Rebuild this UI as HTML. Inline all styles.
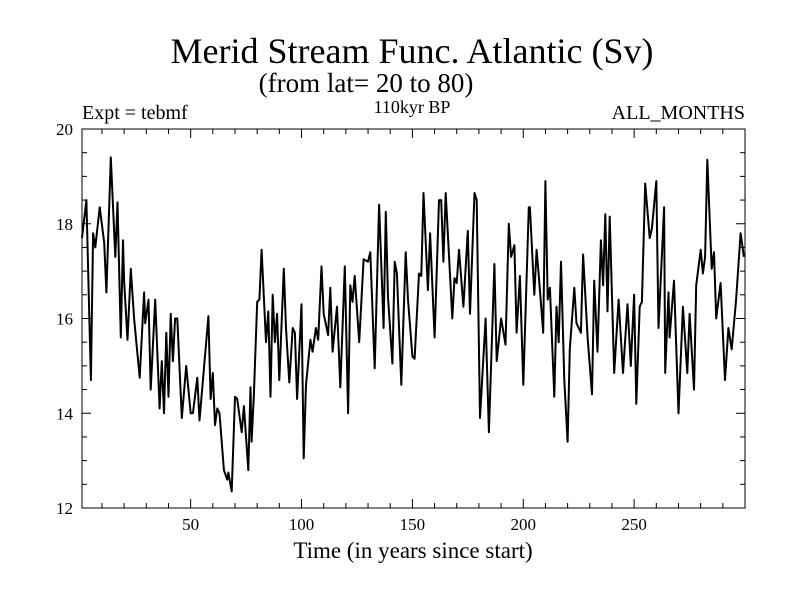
<!DOCTYPE html>
<html><head><meta charset="utf-8"><style>
body{margin:0;background:#fff;}
svg{display:block;font-family:"Liberation Serif",serif;}
</style></head><body>
<svg id="chart" width="800" height="600">
<text x="412" y="63" font-size="36" text-anchor="middle">Merid Stream Func. Atlantic (Sv)</text>
<text x="366" y="92" font-size="27" text-anchor="middle">(from lat= 20 to 80)</text>
<text x="82" y="119" font-size="20">Expt = tebmf</text>
<text x="412" y="113" font-size="18" text-anchor="middle">110kyr BP</text>
<text x="745" y="119" font-size="20" text-anchor="end">ALL_MONTHS</text>
<text x="413" y="558" font-size="23" text-anchor="middle">Time (in years since start)</text>
<rect x="82" y="129" width="663" height="379" fill="none" stroke="#000" stroke-width="1"/>
<g id="ticks"></g>
<g id="series"></g>
</svg>
<script>
const years=[1,3,5,6,7,9,11,12,14,16,17,18.5,19.5,20,21.5,23,24.5,27,29,29.5,31,32,34,36,37,38,39,40,41,42,43,44,46,48,50,51,53,54,58,59,60,61,62,63,65,66.5,67,68.5,70,71,73,74,76,77,77.5,78.5,80,81,82,84,85,86,87,88,89,90,92,93,94.5,96,97,98,100,101,102,104,105,106.5,107.5,109,110,112,113,114,116,117.5,119.5,121,122,123,124,126,128,130,131,133,135,137,138,139,141,142,143,145,147,148,150,151,153,154,155,157,158,160,162,163,164,165,168,169,170,171,173,175,176,178,179,180.5,183,184.5,187,188,190,192,193.5,194.5,196,197,198.5,200,202.5,203,205,206,207,209,210,211,212,214,215,216,217,218.5,220,221,223,224,226,227,229,231,232,233.5,235,236,237,238,239,241,243,245,247,248.5,250,251,252.5,253.5,255,257,258,260,261,263.5,264,265.5,266,268,270,272,274,275,277,278,280,281,282,283,285,286,287,289,291,292.5,294,296,298,299.5];
const values=[17.7,18.5,14.7,17.8,17.5,18.35,17.6,16.55,19.4,17.3,18.45,15.6,17.65,16.8,15.55,17.05,16.0,14.75,16.55,15.9,16.4,14.5,16.4,14.1,15.1,14.0,15.7,14.35,16.1,15.1,16.0,16.0,13.9,15.0,14.0,14.0,14.75,13.85,16.05,14.3,14.85,13.75,14.1,14.0,12.8,12.6,12.75,12.35,14.35,14.3,13.6,14.15,12.8,14.55,13.4,14.35,16.35,16.4,17.45,15.5,16.15,14.35,16.5,15.5,16.1,14.7,17.05,15.8,14.65,15.8,15.7,14.3,16.3,13.05,14.6,15.55,15.3,15.8,15.55,17.1,16.1,15.65,16.65,15.3,16.25,14.55,17.1,14.0,16.7,16.35,16.9,15.5,17.25,17.2,17.4,14.95,18.4,15.8,18.25,16.45,15.05,17.2,16.95,14.6,17.4,16.4,15.2,15.15,16.95,16.9,18.65,16.6,17.8,15.6,18.5,18.5,17.2,18.65,16.0,16.85,16.75,17.45,16.25,17.85,16.1,18.65,18.5,13.9,16.0,13.6,17.15,15.1,16.0,15.45,18.0,17.3,17.55,15.7,16.9,14.6,18.35,18.35,16.5,17.45,16.9,15.7,18.9,16.4,16.65,14.35,16.25,15.5,17.2,14.7,13.4,15.35,16.65,15.9,15.7,17.35,15.6,14.4,16.8,15.3,17.65,16.7,18.2,16.15,18.15,14.85,16.4,14.85,16.3,15.0,16.5,14.2,16.25,16.35,18.85,17.7,17.9,18.9,15.8,18.35,14.85,16.55,15.6,16.8,14.0,16.25,14.85,16.1,14.5,16.7,17.45,16.95,17.3,19.35,17.05,17.4,16.0,16.75,14.7,15.8,15.35,16.4,17.8,17.3];
const xTickLabels=[50,100,150,200,250];
const yTickLabels=[12,14,16,18,20];
const X0=82,X1=745,Y0=508,Y1=129;
const xs=v=>X0+(v-1)/(300-1)*(X1-X0);
const ys=v=>Y0-(v-12)/(20-12)*(Y0-Y1);
const NS="http://www.w3.org/2000/svg";
const tg=document.getElementById('ticks');
function line(x1,y1,x2,y2){const l=document.createElementNS(NS,'line');l.setAttribute('x1',x1);l.setAttribute('y1',y1);l.setAttribute('x2',x2);l.setAttribute('y2',y2);l.setAttribute('stroke','#000');l.setAttribute('stroke-width','1');tg.appendChild(l);return l;}
for(let v=10;v<=300;v+=10){const x=xs(v);const len=v%50===0?9:5;
const a=line(x,Y0,x,Y0-len);
const b=line(x,Y1,x,Y1+len);}
for(let v=12;v<=20;v+=0.5){const y=ys(v);const len=v%2===0?9:5;
const a=line(X0,y,X0+len,y);
const b=line(X1,y,X1-len,y);}
xTickLabels.forEach(v=>{const t=document.createElementNS(NS,'text');t.setAttribute('x',xs(v));t.setAttribute('y',530);t.setAttribute('font-size','17');t.setAttribute('text-anchor','middle');t.textContent=v;


tg.appendChild(t);});
yTickLabels.forEach(v=>{const t=document.createElementNS(NS,'text');t.setAttribute('x',73);t.setAttribute('y',ys(v)+6);t.setAttribute('font-size','17');t.setAttribute('text-anchor','end');t.textContent=v;


tg.appendChild(t);});
const p=document.createElementNS(NS,'polyline');
p.setAttribute('points',years.map((y,i)=>xs(y).toFixed(1)+','+ys(values[i]).toFixed(1)).join(' '));
p.setAttribute('fill','none');p.setAttribute('stroke','#000');p.setAttribute('stroke-width','2');p.setAttribute('stroke-linejoin','round');


document.getElementById('series').appendChild(p);
</script>
</body></html>
